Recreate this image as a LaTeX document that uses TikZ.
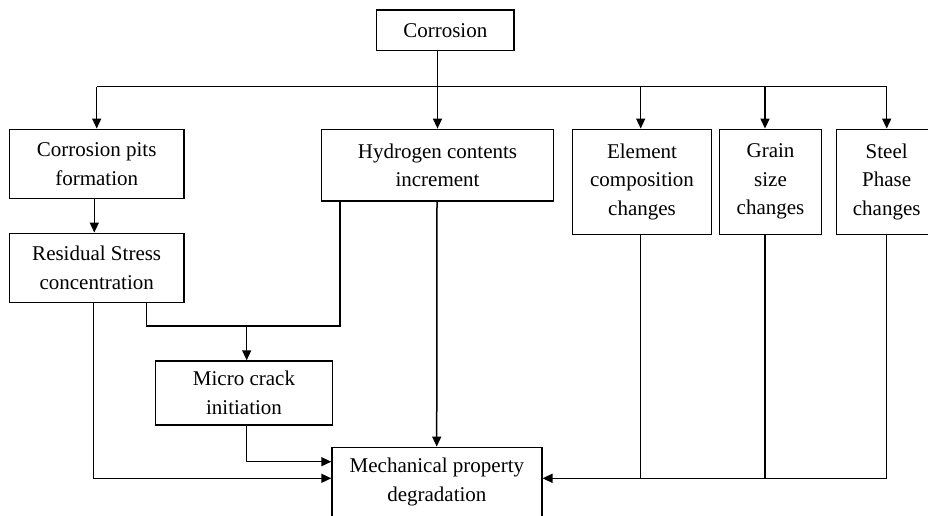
\documentclass[tikz,border=0pt]{standalone}
\usepackage{fontspec}
\setmainfont{Liberation Serif}
\usetikzlibrary{arrows.meta}
\tikzset{
  box/.style={draw, line width=1.5pt, rectangle, inner sep=0pt, align=center,
    font=\fontsize{21}{28.5}\selectfont},
  ln/.style={line width=1.5pt},
  arr/.style={line width=1.5pt, -{Triangle[length=10pt,width=9pt]}}
}
\begin{document}
\begin{tikzpicture}[x=1pt,y=-1pt]
\useasboundingbox (0,0) rectangle (928,515);
\clip (0,0) rectangle (928,515);
\fill[white] (0,0) rectangle (928,515);
% boxes
\node[box, minimum width=137.3pt, minimum height=40.7pt] (corr) at (445.3,30.3) {Corrosion};
\node[box, minimum width=174.7pt, minimum height=69.4pt] (pits) at (96.7,164) {Corrosion pits\\formation};
\node[box, minimum width=231.6pt, minimum height=71.7pt] (hyd) at (437.5,165.2) {Hydrogen contents\\increment};
\node[box, minimum width=138.6pt, minimum height=105pt] (elem) at (642,181.8) {Element\\composition\\changes};
\node[box, minimum width=101.6pt, minimum height=105pt] (grain) at (770.5,181.8) {Grain\\size\\changes};
\node[box, minimum width=100pt, minimum height=105pt] (steel) at (886.7,181.8) {Steel\\Phase\\changes};
\node[box, minimum width=174.7pt, minimum height=69.4pt] (res) at (96.7,268) {Residual Stress\\concentration};
\node[box, minimum width=177.4pt, minimum height=64pt] (micro) at (244,393) {Micro crack\\initiation};
\node[box, minimum width=209.7pt, minimum height=69.4pt] (mech) at (436.9,482) {Mechanical property\\degradation};
% top distribution
\coordinate (busL) at (pits.north |- 0,86.7);
\coordinate (busR) at (steel.north |- 0,86.7);
\draw[ln] (corr.south -| hyd.north) -- (busL -| hyd.north);
\draw[ln] (busL) -- (busR);
\draw[arr] (busL) -- (pits.north);
\draw[arr] (busL -| hyd.north) -- (hyd.north);
\draw[arr] ([xshift=-1.3pt]busL -| elem.north) -- ([xshift=-1.3pt]elem.north);
\draw[arr] ([xshift=-5.5pt]busL -| grain.north) -- ([xshift=-5.5pt]grain.north);
\draw[arr] (busR) -- (steel.north);
% left chain
\draw[arr] ([xshift=-2.4pt]pits.south) -- ([xshift=-2.4pt]res.north);
\coordinate (j2) at ([xshift=-97.5pt]hyd.south |- 0,326);
\draw[ln] ([xshift=50pt]res.south) |- (j2) -- ([xshift=-97.5pt]hyd.south);
\draw[arr] ([xshift=2.7pt]micro.north |- j2) -- ([xshift=2.7pt]micro.north);
\coordinate (mwA) at ([yshift=3.7pt]mech.west);
\coordinate (mwB) at ([yshift=20.3pt]mech.west);
\draw[arr] ([xshift=-3pt]res.south) |- (mwA);
\draw[arr] ([xshift=2.7pt]micro.south) |- (mwB);
\draw[arr] ([xshift=-0.5pt]hyd.south) -- ([xshift=-0.2pt]mech.north);
% right chain
\coordinate (meA) at ([yshift=3.7pt]mech.east);
\draw[arr] (steel.south) |- (meA);
\draw[ln] ([xshift=-1.3pt]elem.south) -- ([xshift=-1.3pt]elem.south |- meA);
\draw[ln] ([xshift=-5.5pt]grain.south) -- ([xshift=-5.5pt]grain.south |- meA);
\end{tikzpicture}
\end{document}
